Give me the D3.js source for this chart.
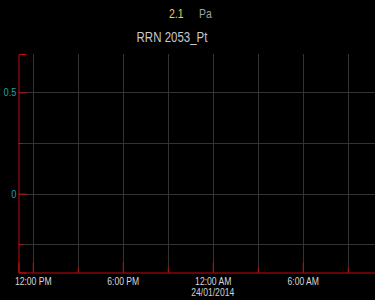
<!DOCTYPE html>
<html>
<head>
<meta charset="utf-8">
<script src="https://cdn.jsdelivr.net/npm/d3@7"></script>
<style>
  html, body { margin: 0; padding: 0; background: #000; }
  svg { display: block; }
  text { font-family: "Liberation Sans", Arial, sans-serif; }
</style>
</head>
<body>
<div id="chart"></div>
<script>
// chart data
const title = "RRN 2053_Pt";
const currentValue = "2.1";
const unit = "Pa";
const timeDomain = [new Date(2014, 0, 23, 11, 3), new Date(2014, 0, 24, 10, 49)];
const majorTimes = [new Date(2014, 0, 23, 12), new Date(2014, 0, 23, 18), new Date(2014, 0, 24, 0), new Date(2014, 0, 24, 6)];
const minorTimes = [new Date(2014, 0, 23, 15), new Date(2014, 0, 23, 21), new Date(2014, 0, 24, 3), new Date(2014, 0, 24, 9)];
const dateLabel = { time: new Date(2014, 0, 24, 0), text: "24/01/2014" };
const valueDomain = [-0.39, 0.69];
const majorValues = [0, 0.5];
const minorValues = [-0.25, 0.25];
const series = []; // no samples in the visible window

const width = 375, height = 300;
const margin = { top: 54, right: 0, bottom: 27.5, left: 18.5 };
const axisRed = "#c80a0a";

const svg = d3.select("#chart")
    .append("svg")
    .attr("width", width)
    .attr("height", height);

const x = d3.scaleTime()
    .domain(timeDomain)
    .range([margin.left, width - margin.right]);

const y = d3.scaleLinear()
    .domain(valueDomain)
    .range([height - margin.bottom, margin.top]);

// squeeze text horizontally, the original uses a narrow face
function narrow(sel, k) {
    sel.each(function () {
        const len = this.getComputedTextLength();
        d3.select(this).attr("textLength", len * k).attr("lengthAdjust", "spacingAndGlyphs");
    });
}

// grid
const grid = svg.append("g").attr("stroke", "#333").attr("stroke-width", 1);
grid.selectAll("line.v")
    .data(majorTimes.concat(minorTimes))
    .join("line")
    .attr("class", "v")
    .attr("x1", d => Math.round(x(d)) + 0.5)
    .attr("x2", d => Math.round(x(d)) + 0.5)
    .attr("y1", margin.top)
    .attr("y2", height - margin.bottom);
grid.selectAll("line.h")
    .data(majorValues.concat(minorValues))
    .join("line")
    .attr("class", "h")
    .attr("x1", margin.left)
    .attr("x2", width)
    .attr("y1", d => Math.round(y(d)) + 0.5)
    .attr("y2", d => Math.round(y(d)) + 0.5);

// series line (empty)
svg.append("path")
    .datum(series)
    .attr("fill", "none")
    .attr("stroke", "#e6d44a")
    .attr("d", d3.line().x(d => x(d.t)).y(d => y(d.v)));

// y axis
const yAxisG = svg.append("g").attr("transform", `translate(${margin.left},0)`);
yAxisG.call(d3.axisLeft(y).tickValues(majorValues).tickSize(-8).tickPadding(2).tickFormat(d3.format("")));
yAxisG.append("g").call(d3.axisLeft(y).tickValues(minorValues).tickSize(-4).tickFormat(""))
    .select(".domain").remove();
yAxisG.selectAll("line").attr("stroke", axisRed);
yAxisG.selectAll(".domain").attr("stroke", axisRed);
yAxisG.selectAll("text").attr("fill", "#1aa3a3").attr("font-size", 11)
    .attr("font-family", "Liberation Sans, Arial, sans-serif")
    .call(narrow, 0.85);

// x axis
const xAxisG = svg.append("g").attr("transform", `translate(0,${height - margin.bottom})`);
xAxisG.call(d3.axisBottom(x).tickValues(majorTimes).tickSize(-10).tickPadding(5).tickFormat(d3.timeFormat("%-I:%M %p")));
xAxisG.append("g").call(d3.axisBottom(x).tickValues(minorTimes).tickSize(-5).tickFormat(""))
    .select(".domain").remove();
xAxisG.selectAll("line").attr("stroke", axisRed);
xAxisG.selectAll(".domain").attr("stroke", axisRed);
xAxisG.selectAll("text").attr("fill", "#d8d8d8").attr("font-size", 11)
    .attr("font-family", "Liberation Sans, Arial, sans-serif")
    .call(narrow, 0.78);

svg.append("text")
    .attr("x", x(dateLabel.time))
    .attr("y", 296)
    .attr("text-anchor", "middle")
    .attr("fill", "#d0d0d0")
    .attr("font-size", 11)
    .text(dateLabel.text)
    .call(narrow, 0.78);

// header
svg.append("text")
    .attr("x", 183.5)
    .attr("y", 18)
    .attr("text-anchor", "end")
    .attr("fill", "#e8d640")
    .attr("font-size", 13)
    .text(currentValue)
    .call(narrow, 0.8);
svg.append("text")
    .attr("x", 199)
    .attr("y", 18)
    .attr("fill", "#a0a0a0")
    .attr("font-size", 13)
    .text(unit)
    .call(narrow, 0.8);
svg.append("text")
    .attr("x", 172)
    .attr("y", 41.5)
    .attr("text-anchor", "middle")
    .attr("fill", "#c8c8c8")
    .attr("font-size", 14)
    .text(title)
    .call(narrow, 0.82);
</script>
</body>
</html>
